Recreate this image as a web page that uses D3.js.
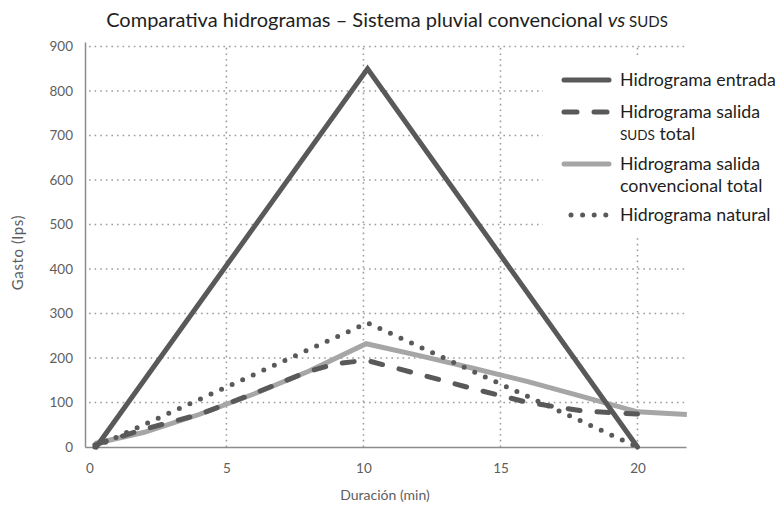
<!DOCTYPE html>
<html>
<head>
<meta charset="utf-8">
<script src="https://cdn.jsdelivr.net/npm/d3@7"></script>
<style>
	body { margin: 0; background: #fff; }
	svg { font-family: Lato, "Open Sans", sans-serif; }
</style>
</head>
<body>
<svg id="chart" width="781" height="507"></svg>
<script>
// values (min, lps)
const xTicks = [0, 5, 10, 15, 20];
const yTicks = [0, 100, 200, 300, 400, 500, 600, 700, 800, 900];

const tEntrada = [0.25, 10.15, 20];
const qEntrada = [0, 850, 0];

const tSuds = [0.2, 2, 4, 6, 8, 9, 10.1, 12, 14, 16, 18, 20];
const qSuds = [5, 40, 73, 120, 170, 187, 195, 164, 131, 100, 81, 74];

const tConv = [0.2, 2, 4, 6, 8, 10.1, 12, 14, 16, 18, 20, 21.8];
const qConv = [8, 33, 73, 119, 170, 232, 206, 177, 147, 113, 79, 73];

const tNatural = [0.2, 10.15, 20];
const qNatural = [0, 279, 0];

const seriesNames = ["Hidrograma entrada", "Hidrograma salida|SUDS total", "Hidrograma salida|convencional total", "Hidrograma natural"];

(function(d3){
	const svg = d3.select("#chart");
	const margin = {top: 42, right: 95, bottom: 60, left: 85};
	const width = +svg.attr("width"), height = +svg.attr("height");

	const x = d3.scaleLinear().domain([-0.16, 21.77]).range([margin.left, width - margin.right]);
	const y = d3.scaleLinear().domain([0, 910]).range([height - margin.bottom, margin.top]);

	const dark = "#595959", light = "#a6a6a6", gridCol = "#9c9c9c";

	// gridlines
	svg.append("g")
		.selectAll("line")
		.data(yTicks.slice(1))
		.enter().append("line")
		.attr("x1", margin.left + 4).attr("x2", width - margin.right)
		.attr("y1", d => y(d)).attr("y2", d => y(d))
		.attr("stroke", gridCol).attr("stroke-width", 1.6)
		.attr("stroke-dasharray", "1.6,4");

	svg.append("g")
		.selectAll("line")
		.data(xTicks.slice(1))
		.enter().append("line")
		.attr("x1", d => x(d)).attr("x2", d => x(d))
		.attr("y1", y(0)).attr("y2", margin.top + 3)
		.attr("stroke", gridCol).attr("stroke-width", 1.6)
		.attr("stroke-dasharray", "1.6,4");

	// axes
	const xAxis = svg.append("g")
		.attr("transform", `translate(0,${y(0)})`)
		.call(d3.axisBottom(x).tickValues(xTicks).tickSize(0).tickPadding(16));
	xAxis.select(".domain").attr("stroke", "#8c8c8c").attr("stroke-width", 1.5);

	const yAxis = svg.append("g")
		.attr("transform", `translate(${margin.left},0)`)
		.call(d3.axisLeft(y).tickValues(yTicks).tickSize(0).tickPadding(12));
	yAxis.select(".domain").attr("stroke", "#8c8c8c").attr("stroke-width", 1.5);

	svg.selectAll(".tick text")
		.attr("fill", "#5e5e5e")
		.style("font-size", "13.5px")
		.style("font-family", "Lato, sans-serif");

	// series
	const line = d3.line().x(d => x(d[0])).y(d => y(d[1]));
	const zip = (t, q) => t.map((v, i) => [v, q[i]]);

	const series = [
		{data: zip(tConv, qConv), color: light, dash: null, cap: "butt"},
		{data: zip(tEntrada, qEntrada), color: dark, dash: null, cap: "round"},
		{data: zip(tNatural, qNatural), color: dark, dash: "0,11.6", cap: "round"},
		{data: zip(tSuds, qSuds), color: dark, dash: "12,17", cap: "round"}
	];

	svg.append("g")
		.selectAll("path")
		.data(series)
		.enter().append("path")
		.attr("d", d => line(d.data))
		.attr("fill", "none")
		.attr("stroke", d => d.color)
		.attr("stroke-width", 5)
		.attr("stroke-linejoin", "miter")
		.attr("stroke-linecap", d => d.cap)
		.attr("stroke-dasharray", d => d.dash);

	// title
	const title = svg.append("text")
		.attr("x", 387).attr("y", 27)
		.attr("text-anchor", "middle")
		.attr("fill", "#1e1e1e")
		.style("font-size", "20px");
	title.append("tspan").text("Comparativa hidrogramas – Sistema pluvial convencional ");
	title.append("tspan").style("font-style", "italic").text("vs");
	title.append("tspan").style("font-size", "15px").text(" SUDS");

	// axis titles
	svg.append("text")
		.attr("x", 385).attr("y", 500)
		.attr("text-anchor", "middle")
		.attr("fill", "#5e5e5e")
		.style("font-size", "14px")
		.text("Duración (min)");

	svg.append("text")
		.attr("transform", `translate(23,${(margin.top + y(0)) / 2 + 8}) rotate(-90)`)
		.attr("text-anchor", "middle")
		.attr("fill", "#5e5e5e")
		.style("font-size", "15px")
		.style("letter-spacing", "0.6px")
		.text("Gasto (lps)");

	// legend
	const legend = svg.append("g");
	legend.append("rect")
		.attr("x", 543).attr("y", 58).attr("width", 238).attr("height", 178)
		.attr("fill", "#fff");

	const legendY = [80, 112, 164, 215];
	const legendItems = legend.selectAll("g.item")
		.data(seriesNames)
		.enter().append("g")
		.attr("class", "item")
		.attr("transform", (d, i) => `translate(0,${legendY[i]})`);

	const legendStyle = [
		{color: dark, dash: null, x1: 564, x2: 609},
		{color: dark, dash: "13,17", x1: 564, x2: 609},
		{color: light, dash: null, x1: 564, x2: 609},
		{color: dark, dash: "0,11.6", x1: 571, x2: 607}
	];

	legendItems.append("line")
		.attr("x1", (d, i) => legendStyle[i].x1)
		.attr("x2", (d, i) => legendStyle[i].x2)
		.attr("stroke", (d, i) => legendStyle[i].color)
		.attr("stroke-width", 5)
		.attr("stroke-linecap", "round")
		.attr("stroke-dasharray", (d, i) => legendStyle[i].dash);

	legendItems.each(function(d, i) {
		const parts = d.split("|");
		const t = d3.select(this).append("text")
			.attr("x", 620).attr("y", 6)
			.attr("fill", "#1e1e1e")
			.style("font-size", "17.8px");
		parts.forEach((p, j) => {
			const ts = t.append("tspan").attr("x", 620).attr("dy", j ? 22 : 0);
			if (p.startsWith("SUDS")) {
				ts.append("tspan").style("font-size", "13.5px").text("SUDS");
				ts.append("tspan").text(p.slice(4));
			} else {
				ts.text(p);
			}
		});
	});
}(d3));
</script>
</body>
</html>
